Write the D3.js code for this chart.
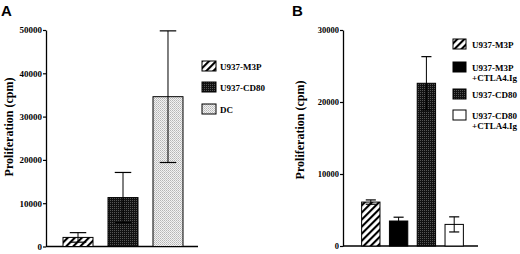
<!DOCTYPE html>
<html>
<head>
<meta charset="utf-8">
<script src="https://cdn.jsdelivr.net/npm/d3@7"></script>
<style>
  body { margin: 0; background: #fff; }
  text { font-family: "Liberation Serif", "Times New Roman", serif; font-weight: bold; fill: #000; }
</style>
</head>
<body>
<svg id="chart" width="520" height="254"></svg>
<script>
// panel A
const catsA = ["U937-M3P", "U937-CD80", "DC"]
const valsA = [2100, 11300, 34600]
const errsA = [1100, 5800, 15200]
const ticksA = [0, 10000, 20000, 30000, 40000, 50000]

// panel B
const catsB = ["U937-M3P", "U937-M3P+CTLA4.Ig", "U937-CD80", "U937-CD80+CTLA4.Ig"]
const valsB = [6100, 3470, 22600, 3000]
const errsB = [300, 530, 3700, 1050]
const ticksB = [0, 10000, 20000, 30000]
const legendB = [["U937-M3P"], ["U937-M3P", "+CTLA4.Ig"], ["U937-CD80"], ["U937-CD80", "+CTLA4.Ig"]]

const svg = d3.select("#chart")
const defs = svg.append("defs")

// fill patterns
const hatch = defs.append("pattern")
  .attr("id", "hatch").attr("patternUnits", "userSpaceOnUse")
  .attr("width", 5).attr("height", 5)
  .attr("patternTransform", "rotate(45)")
hatch.append("rect").attr("width", 5).attr("height", 5).attr("fill", "#fff")
hatch.append("line").attr("x1", 1).attr("x2", 1).attr("y1", 0).attr("y2", 5)
  .attr("stroke", "#000").attr("stroke-width", 2.2)

const dark = defs.append("pattern")
  .attr("id", "dark").attr("patternUnits", "userSpaceOnUse")
  .attr("width", 2).attr("height", 2)
dark.append("rect").attr("width", 2).attr("height", 2).attr("fill", "#111")
dark.append("rect").attr("width", 1).attr("height", 1).attr("fill", "#555")

const light = defs.append("pattern")
  .attr("id", "light").attr("patternUnits", "userSpaceOnUse")
  .attr("width", 2).attr("height", 2)
light.append("rect").attr("width", 2).attr("height", 2).attr("fill", "#f2f2f2")
light.append("rect").attr("width", 1).attr("height", 1).attr("fill", "#b5b5b5")
light.append("rect").attr("x", 1).attr("y", 1).attr("width", 1).attr("height", 1).attr("fill", "#c8c8c8")

const fillsA = ["url(#hatch)", "url(#dark)", "url(#light)"]
const fillsB = ["url(#hatch)", "#000", "url(#dark)", "#fff"]

function drawPanel (opt) {
  const g = svg.append("g")

  const y = d3.scaleLinear().domain([0, opt.ymax]).range([opt.y0, opt.y1])
  const x = d3.scaleBand()
    .domain(opt.cats)
    .range(opt.xr)
    .paddingInner(opt.pi)
    .paddingOuter(opt.po)

  const yAxis = d3.axisLeft(y)
    .tickValues(opt.ticks)
    .tickFormat(d3.format("d"))
    .tickSize(3)
    .tickPadding(1)
    .tickSizeOuter(0)

  const ax = g.append("g")
    .attr("transform", "translate(" + opt.xr[0] + ",0)")
    .call(yAxis)
  ax.select(".domain").attr("stroke", "#000").attr("stroke-width", 1.3)
  ax.selectAll(".tick line").attr("stroke", "#000").attr("stroke-width", 1.2)
  ax.selectAll(".tick text")
    .style("font-family", "'Liberation Serif', serif")
    .style("font-weight", "bold")
    .style("font-size", opt.tickFont + "px")
    .attr("fill", "#000")

  // x baseline
  g.append("line")
    .attr("x1", opt.xr[0]).attr("x2", opt.xEnd)
    .attr("y1", y(0)).attr("y2", y(0))
    .attr("stroke", "#000").attr("stroke-width", 1.3)

  // bars
  g.selectAll("rect.bar")
    .data(opt.vals)
    .enter()
    .append("rect")
      .attr("class", "bar")
      .attr("x", (d, i) => x(opt.cats[i]))
      .attr("width", x.bandwidth())
      .attr("y", d => y(d))
      .attr("height", d => y(0) - y(d))
      .attr("fill", (d, i) => opt.fills[i])
      .attr("stroke", "#000")
      .attr("stroke-width", 1)

  // error bars
  const cap = x.bandwidth() * 0.55
  opt.vals.forEach(function (v, i) {
    const cx = x(opt.cats[i]) + x.bandwidth() / 2
    const e = opt.errs[i]
    g.append("line")
      .attr("x1", cx).attr("x2", cx)
      .attr("y1", y(v + e)).attr("y2", y(Math.max(0, v - e)))
      .attr("stroke", "#000").attr("stroke-width", 1)
    ;[v + e, v - e].forEach(function (yy) {
      g.append("line")
        .attr("x1", cx - cap / 2).attr("x2", cx + cap / 2)
        .attr("y1", y(yy)).attr("y2", y(yy))
        .attr("stroke", "#000").attr("stroke-width", 1.2)
    })
  })

  // y label
  g.append("text")
    .attr("transform", "translate(" + opt.labelX + "," + opt.labelY + ") rotate(-90)")
    .attr("text-anchor", "middle")
    .style("font-size", "12px")
    .text("Proliferation (cpm)")

  // panel letter
  g.append("text")
    .attr("x", opt.letterX).attr("y", 16)
    .style("font-family", "'Liberation Sans', Arial, sans-serif")
    .style("font-weight", "bold")
    .style("font-size", "15px")
    .text(opt.letter)

  // legend
  const lg = g.append("g")
  opt.legend.forEach(function (lines, i) {
    const ry = opt.legY[i]
    lg.append("rect")
      .attr("x", opt.legX).attr("y", ry)
      .attr("width", opt.swW).attr("height", opt.swH)
      .attr("fill", opt.fills[i])
      .attr("stroke", "#000").attr("stroke-width", 1)
    lines.forEach(function (t, j) {
      lg.append("text")
        .attr("x", opt.legX + opt.textDx)
        .attr("y", ry + opt.swH - 1.5 + j * 10.5)
        .style("font-size", "9px")
        .text(t)
    })
  })
}

drawPanel({
  letter: "A", letterX: 1,
  cats: catsA, vals: valsA, errs: errsA, ticks: ticksA, fills: fillsA,
  ymax: 50000, y0: 246.5, y1: 30,
  xr: [46, 200], xEnd: 198, pi: 1 / 3, po: 0.378,
  tickFont: 9,
  labelX: 13, labelY: 127,
  legend: catsA.map(d => [d]), legX: 202, legY: [61, 82, 104], swW: 14, swH: 10, textDx: 18
})

drawPanel({
  letter: "B", letterX: 292,
  cats: catsB, vals: valsB, errs: errsB, ticks: ticksB, fills: fillsB,
  ymax: 30000, y0: 246, y1: 30,
  xr: [343, 482], xEnd: 478, pi: 0.34, po: 0.67,
  tickFont: 8.5,
  labelX: 304, labelY: 130,
  legend: legendB, legX: 453, legY: [39, 62, 89, 110], swW: 13, swH: 10, textDx: 19
})
</script>
</body>
</html>
